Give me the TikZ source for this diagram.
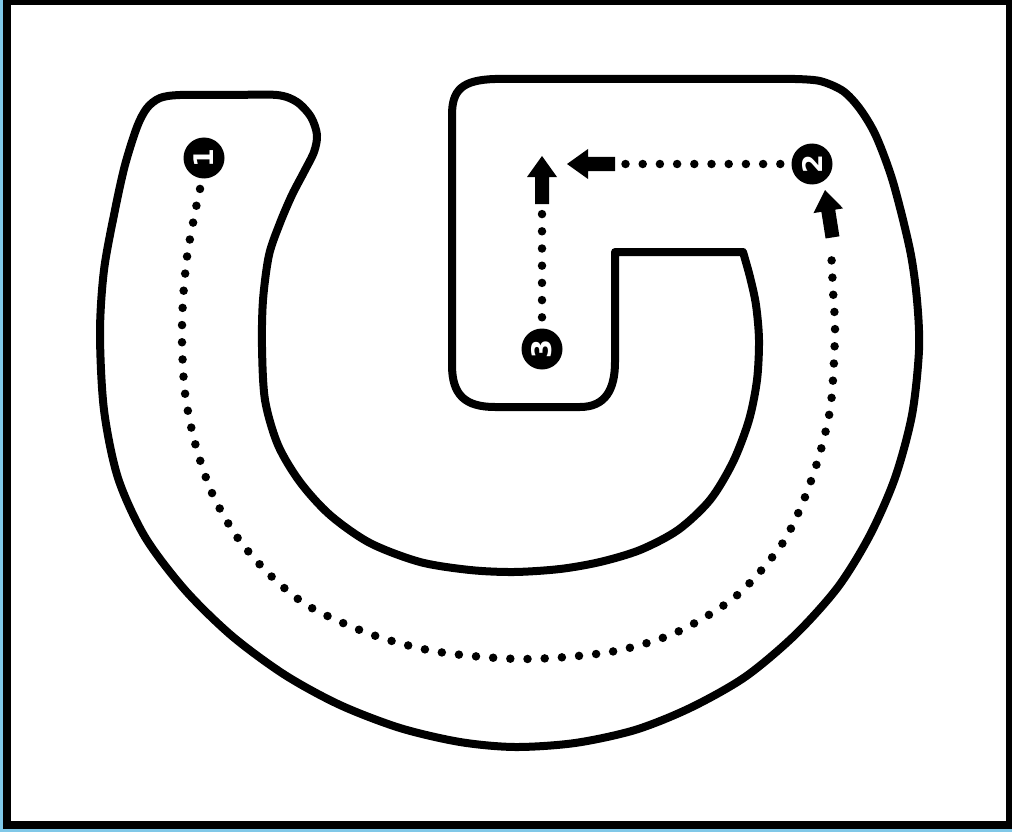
\documentclass[tikz,border=0pt]{standalone}
\usepackage{fontspec}
\usepackage{graphicx}
\newfontfamily\numfont{DejaVu Sans}
\definecolor{skyedge}{RGB}{128,200,232}
\begin{document}
\begin{tikzpicture}[x=1pt,y=-1pt,
  outline/.style={line width=8pt, line join=round},
  dotline/.style={line width=8.5pt, line cap=round, dash pattern=on 0pt off 17.2pt, dash phase=6.2pt},
  numcirc/.style={circle, fill=black, minimum size=41pt, inner sep=0pt, text=white, font=\numfont\bfseries\fontsize{27}{27}\selectfont},
  blockarrow/.pic={\fill[black] (0,0) -- (-21,15) -- (-21,7) -- (-48,7) -- (-48,-7) -- (-21,-7) -- (-21,-15) -- cycle;}
]
\useasboundingbox (0,0) rectangle (1012,832);
% frame
\fill[skyedge] (0,0) rectangle (1012,832);
\fill[black] (3,0) rectangle (1012,829);
\fill[white] (11,5) rectangle (1006,821);

% track outline
\draw[outline] plot[smooth] coordinates {
  (743,252) (750,277) (756,305) (759,340) (757,380) (749,420) (733,462) (710,500)
  (678,530) (640,550) (600,562) (560,569) (514,572) (470,570) (420,562) (370,543)
  (330,515) (300,482) (278,445) (265,400) (262,347) (263,300) (269,255)
  (280,223) (292,195) (304,172) (314,152) (317,135) (311,117) (297,102) (277,95)
  (230,95) (180,95) (160,98) (147,108) (137,127) (125,165) (115,210) (104,270)
  (100,333) (104,410) (118,478) (145,537) (185,590) (232,636) (285,675) (340,705)
  (400,728) (460,742) (515,747) (575,743) (635,730) (690,708) (745,677) (795,635)
  (838,587) (870,535) (895,478) (912,415) (919,350) (917,300) (910,250) (893,182)
  (876,136) (860,109) (843,91) (820,81) (795,79)}
  -- (495,79) .. controls (462,80) and (452,90) .. (452,115)
  -- (452,365) .. controls (452,395) and (465,407) .. (495,407)
  -- (580,407) .. controls (605,407) and (615,390) .. (615,362)
  -- (615,252) -- cycle;

% numbered stops
\node[numcirc] (c1) at (204,158) {\rotatebox{90}{1}};
\node[numcirc] (c2) at (812,164) {\rotatebox{90}{2}};
\node[numcirc] (c3) at (542,349) {\rotatebox{90}{3}};

% arrow positions
\coordinate (t2) at (825,190);
\coordinate (tleft) at (567,164);
\coordinate (tup) at (542,156);
\coordinate (e1) at (831,247);
\coordinate (e2) at (622,164);
\coordinate (e3) at (542,207);

% dotted routes
\draw[dotline] plot[smooth] coordinates {
  (c1.south) (200,189) (193,223) (187,257) (183,300) (182,342) (185,393) (195,443)
  (212,493) (237,537) (270,575) (310,607) (373,635) (439,652) (524,659) (610,652)
  (675,633) (735,597) (780,547) (803,502) (820,453) (831,403) (835,333) (833,290) (e1)};
\draw[dotline] (c2.west) -- (e2);
\draw[dotline] (c3.north) -- (e3);

% block arrows
\pic[rotate=99] at (t2) {blockarrow};
\pic[rotate=180] at (tleft) {blockarrow};
\pic[rotate=90] at (tup) {blockarrow};
\end{tikzpicture}
\end{document}
